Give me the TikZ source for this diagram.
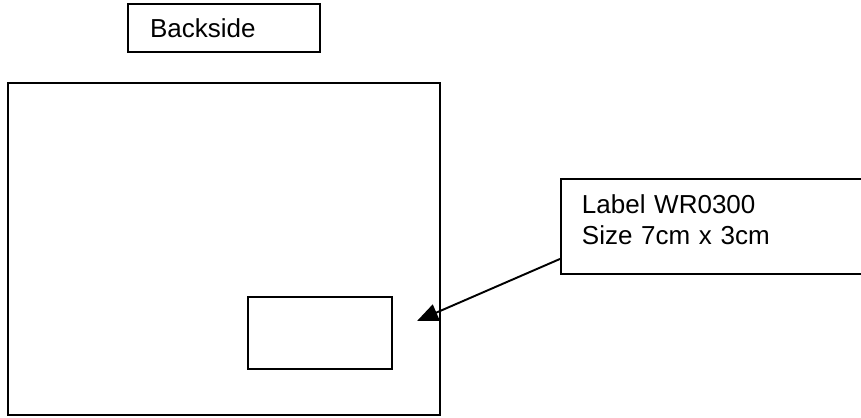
\documentclass[tikz,border=0pt]{standalone}
\usepackage{fontspec}
\setmainfont{Liberation Sans}
\usetikzlibrary{arrows.meta}
\tikzset{
  frame/.style={draw=black, line width=1.1pt},
  tagbox/.style={frame, align=left, inner ysep=0pt, font=\fontsize{14.8}{17.6}\selectfont}
}
\begin{document}
\begin{tikzpicture}[x=0.02cm, y=-0.02cm]
\clip (0,0) rectangle (861,418); % page size in pixels
\node[tagbox, minimum width=3.84cm, minimum height=0.96cm, text width=2.96cm, inner xsep=0.44cm] (backside) at (224,28) {Backside};
\draw[frame] (8,83) rectangle (440,415); % the board
\draw[frame] (248,297) rectangle (392,369); % where the label goes
\node[tagbox, anchor=north west, minimum height=1.9cm, text width=7cm, text depth=0.88cm, inner xsep=0.42cm] (info) at (560,178) {Label WR0300\\Size 7cm x 3cm};
\coordinate (tip) at (417,321);
\draw[line width=1.1pt, -{Triangle[length=12pt, width=10pt]}] ([yshift=-0.65cm]info.west) -- (tip);
\end{tikzpicture}
\end{document}
